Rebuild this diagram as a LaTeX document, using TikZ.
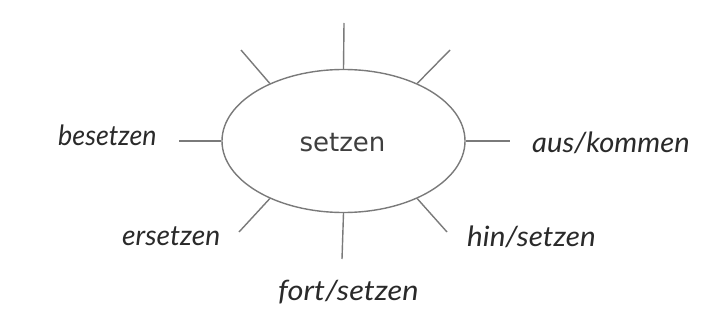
\documentclass[tikz,border=0pt]{standalone}
\usepackage{fontspec}
\setmainfont{DejaVu Sans}
\newfontfamily\handfont{Lato}
\usetikzlibrary{shapes.geometric}
\definecolor{linegray}{HTML}{7A7A7A}
\definecolor{inkgray}{HTML}{2A2A2A}
\tikzset{
  x=1pt, y=1pt,
  spoke/.style={draw=linegray, line width=1.4pt},
  hub/.style={ellipse, draw=linegray, line width=1.4pt, minimum width=243pt, minimum height=143pt, inner sep=0pt},
  hublabel/.style={font=\fontsize{26}{30}\selectfont, text=inkgray!90, inner sep=0pt, anchor=base},
  leaf/.style={font=\handfont\itshape\fontsize{28}{30}\selectfont, text=inkgray, inner sep=0pt, anchor=base west}
}
\begin{document}
\begin{tikzpicture}
\fill[white] (0,0) rectangle (725,-334);
\useasboundingbox (0,0) rectangle (725,-334);
\node[hub] (e) at (343.5,-141) {};
\node[hublabel] (c) at (342.5,-151) {setzen};
\coordinate (pt) at (344,-23);
\coordinate (ptl) at (241,-50);
\coordinate (ptr) at (450,-50);
\coordinate (pl) at (179,-141);
\coordinate (pr) at (510,-141);
\coordinate (pb) at (342,-259);
\coordinate (pbl) at (239,-232);
\coordinate (pbr) at (447,-232);
\draw[spoke] (e.north) -- (pt);
\draw[spoke] (e.142) -- (ptl);
\draw[spoke] (e.38) -- (ptr);
\draw[spoke] (e.west) -- (pl);
\draw[spoke] (e.east) -- (pr);
\draw[spoke] (e.south) -- (pb);
\draw[spoke] (e.218) -- (pbl);
\draw[spoke] (e.322) -- (pbr);
\node[leaf] (l1) at (58,-145) {\scalebox{0.96}[1]{besetzen}};
\node[leaf] (l2) at (122,-245) {\scalebox{1.01}[1]{ersetzen}};
\node[leaf] (l3) at (532,-152) {\scalebox{1.04}[1]{aus/kommen}};
\node[leaf] (l4) at (467,-246) {\scalebox{1.06}[1]{hin/setzen}};
\node[leaf] (l5) at (278,-300) {\scalebox{1.10}[1]{fort/setzen}};
\end{tikzpicture}
\end{document}
